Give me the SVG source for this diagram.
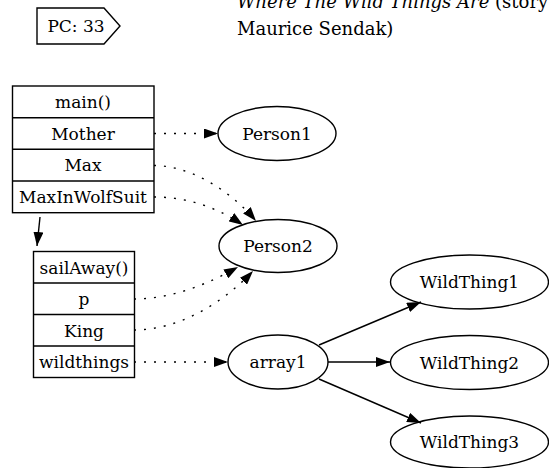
<svg xmlns="http://www.w3.org/2000/svg" width="549" height="468" viewBox="0 0 549 468">
  <style>
    .shape { fill: #ffffff; stroke: #000000; stroke-width: 1.4; }
    .lbl { font-family: 'DejaVu Serif', 'Liberation Serif', serif; font-size: 17px; fill: #000000; text-anchor: middle; }
    .title { font-family: 'DejaVu Serif', 'Liberation Serif', serif; font-size: 18px; fill: #000000; }
    .edge { fill: none; stroke: #000000; stroke-width: 1.4; }
    .ref { stroke-dasharray: 2 8; marker-end: url(#head); }
    .solid { marker-end: url(#head); }
  </style>
  <defs>
    <marker id="head" markerUnits="userSpaceOnUse" markerWidth="14" markerHeight="10" refX="14" refY="5" orient="auto">
      <path d="M0,0 L14,5 L0,10 Z" fill="#000000" stroke="none"/>
    </marker>
  </defs>

  <rect width="549" height="468" fill="#ffffff"/>

  <!-- program counter tag -->
  <g id="pc">
    <polygon class="shape" points="37,8 104,8 120,26 104,44 37,44"/>
    <text class="lbl" x="76" y="32">PC: 33</text>
  </g>

  <!-- title -->
  <g id="title">
    <text class="title" x="237" y="8"><tspan font-style="italic">Where The Wild Things Are</tspan> (story</text>
    <text class="title" x="237" y="35">Maurice Sendak)</text>
  </g>

  <!-- stack frame: main() -->
  <g id="frame_main">
    <rect class="shape" x="12.5" y="86" width="141.5" height="126.7"/>
    <line class="shape" x1="12.5" y1="117.7" x2="154" y2="117.7"/>
    <line class="shape" x1="12.5" y1="149.3" x2="154" y2="149.3"/>
    <line class="shape" x1="12.5" y1="181" x2="154" y2="181"/>
    <text class="lbl" x="83" y="108">main()</text>
    <text class="lbl" x="83" y="139.5">Mother</text>
    <text class="lbl" x="83" y="171">Max</text>
    <text class="lbl" x="83" y="203">MaxInWolfSuit</text>
  </g>

  <!-- stack frame: sailAway() -->
  <g id="frame_sailAway">
    <rect class="shape" x="33.5" y="251.5" width="101" height="126"/>
    <line class="shape" x1="33.5" y1="283" x2="134.5" y2="283"/>
    <line class="shape" x1="33.5" y1="314.5" x2="134.5" y2="314.5"/>
    <line class="shape" x1="33.5" y1="346" x2="134.5" y2="346"/>
    <text class="lbl" x="84" y="273.5">sailAway()</text>
    <text class="lbl" x="84" y="305">p</text>
    <text class="lbl" x="84" y="336.5">King</text>
    <text class="lbl" x="84" y="368">wildthings</text>
  </g>

  <!-- heap objects -->
  <g id="Person1">
    <ellipse class="shape" cx="277" cy="133.5" rx="59" ry="27"/>
    <text class="lbl" x="277" y="139.5">Person1</text>
  </g>
  <g id="Person2">
    <ellipse class="shape" cx="278" cy="246" rx="59" ry="26.5"/>
    <text class="lbl" x="278" y="252">Person2</text>
  </g>
  <g id="array1">
    <ellipse class="shape" cx="278" cy="362" rx="50" ry="27"/>
    <text class="lbl" x="278" y="368">array1</text>
  </g>
  <g id="WildThing1">
    <ellipse class="shape" cx="469.5" cy="282" rx="79" ry="27"/>
    <text class="lbl" x="469.5" y="288">WildThing1</text>
  </g>
  <g id="WildThing2">
    <ellipse class="shape" cx="469.5" cy="362.5" rx="79" ry="27"/>
    <text class="lbl" x="469.5" y="368.5">WildThing2</text>
  </g>
  <g id="WildThing3">
    <ellipse class="shape" cx="469.5" cy="442" rx="79" ry="26"/>
    <text class="lbl" x="469.5" y="448">WildThing3</text>
  </g>

  <!-- connectors -->
  <g id="edges">
    <path class="edge solid" d="M40,217 L37,246"/>
    <path class="edge ref" d="M154,133.5 L218,133.5"/>
    <path class="edge ref" d="M154,165.5 C188,165.5 228,188 256,221"/>
    <path class="edge ref" d="M154,197 C185,197 215,206 243,225"/>
    <path class="edge ref" d="M134,299 C172,299 208,284 238,267"/>
    <path class="edge ref" d="M134,330 C178,330 222,304 253,271"/>
    <path class="edge ref" d="M134,362 L228,362"/>
    <path class="edge solid" d="M319,345 L421,302"/>
    <path class="edge solid" d="M328,362 L390,362"/>
    <path class="edge solid" d="M319,379 L421,423"/>
  </g>
</svg>
